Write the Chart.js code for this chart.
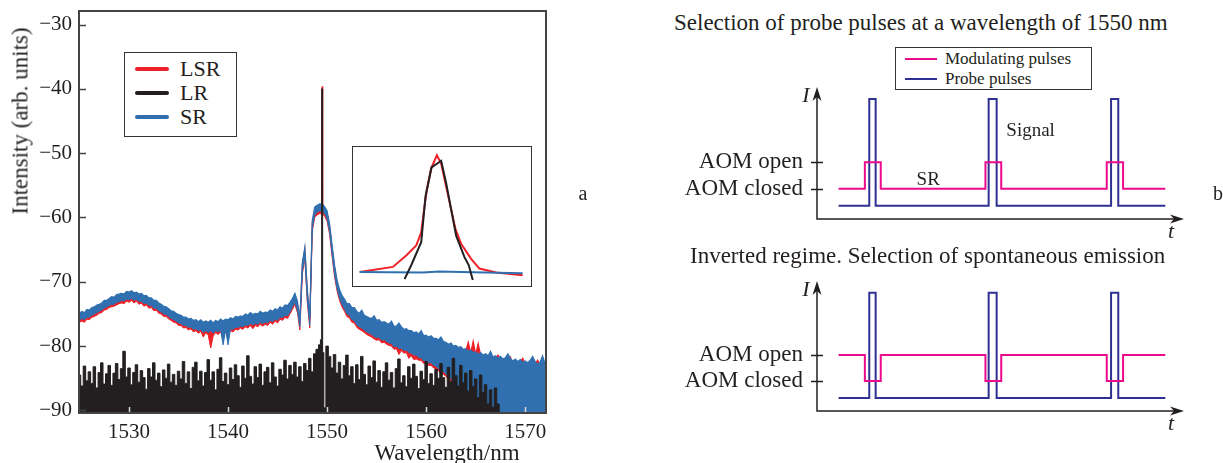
<!DOCTYPE html>
<html>
<head>
<meta charset="utf-8">
<script src="https://cdn.jsdelivr.net/npm/chart.js@4.4.1/dist/chart.umd.min.js"></script>
<style>
  html, body { margin: 0; padding: 0; background: #fff; }
  body { width: 1223px; height: 463px; position: relative; overflow: hidden;
         font-family: "Liberation Serif", "DejaVu Serif", serif; color: #231f20; }
  canvas, .box, .txt { position: absolute; }
  .txt { white-space: nowrap; line-height: 1; }
  .box { box-sizing: border-box; background: #fff; }
  .row { display: flex; align-items: center; }
  .sw { display: inline-block; }
</style>
</head>
<body>
<canvas id="spectrum" width="560" height="463" style="left:0;top:0"></canvas>
<div class="box" id="insetBox" style="left:352px;top:146px;width:180px;height:141px;border:1.5px solid #333">
  <canvas id="inset" width="177" height="138" style="left:0;top:0"></canvas>
</div>
<div class="box" id="specLegend" style="left:124px;top:52px;width:113px;height:85px;border:1.5px solid #333;padding-top:4px"></div>
<div class="txt" style="left:20px;top:121px;font-size:23px;transform:translate(-50%,-50%) rotate(-90deg)">Intensity (arb. units)</div>
<div class="txt" style="left:447px;top:452px;font-size:23px;transform:translate(-50%,-50%)">Wavelength/nm</div>
<div class="txt" style="left:583px;top:193px;font-size:20px;transform:translate(-50%,-50%)">a</div>

<canvas id="scheme1" width="563" height="170" style="left:660px;top:80px"></canvas>
<canvas id="scheme2" width="563" height="175" style="left:660px;top:274px"></canvas>
<div class="txt" style="left:674px;top:22px;font-size:23px;transform:translateY(-50%)">Selection of probe pulses at a wavelength of 1550 nm</div>
<div class="txt" style="left:690px;top:255px;font-size:23px;transform:translateY(-50%)">Inverted regime. Selection of spontaneous emission</div>
<div class="box" id="schemeLegend" style="left:895px;top:47px;width:197px;height:43px;border:1px solid #333;padding-top:1px"></div>
<div class="txt" style="left:1218px;top:193px;font-size:20px;transform:translate(-50%,-50%)">b</div>

<script>
// ---- spectrum (a): every array sampled each 0.25 nm from 1525 nm ----
const wlStart = 1525;
const wlStep = 0.25;

// SR (blue) noise band: upper and lower edge
const srTop = [
  -74.9, -74.6, -74.8, -74.3,  -74.4, -74.0, -73.9, -73.6,  -73.5, -73.3, -72.9, -72.9,
  -72.6, -72.3, -72.4, -72.0,  -71.9, -71.8, -71.9, -71.5,  -71.6, -71.4, -71.7, -71.6,
  -71.9, -71.8, -72.2, -72.1,  -72.5, -72.5, -72.9, -72.9,  -73.3, -73.5, -73.8, -73.9,
  -74.2, -74.5, -74.6, -74.9,  -75.1, -75.2, -75.5, -75.5,  -75.8, -75.7, -76.0, -75.9,
  -76.2, -75.9, -76.3, -76.1,  -76.3, -76.0, -76.4, -76.0,  -76.2, -75.8, -76.1, -75.8,
  -75.9, -75.6, -75.8, -75.4,  -75.5, -75.3, -75.4, -75.0,  -75.2, -74.8, -75.1, -74.9,
  -75.0, -74.6, -74.9, -74.7,  -74.8, -74.4, -74.6, -74.2,  -74.4, -73.9, -74.1, -73.6,
  -73.7, -73.2, -72.6, -71.8,  -73.0, -75.8, -67.0, -64.6,  -71.2, -75.4, -60.5, -58.4,
  -58.1, -57.9, -57.9, -58.3,  -59.0, -61.0, -64.3, -67.4,  -69.7, -71.2, -72.1, -72.7,
  -73.4, -73.4, -74.0, -74.0,  -74.6, -74.9, -74.4, -75.2,  -75.4, -75.6, -75.7, -75.3,
  -76.0, -75.9, -76.3, -76.2,  -76.4, -76.6, -76.1, -76.9,  -76.9, -76.4, -77.0, -77.4,
  -77.3, -77.6, -77.6, -77.9,  -77.8, -78.1, -77.6, -78.4,  -78.3, -78.6, -78.4, -78.8,
  -78.8, -79.0, -78.6, -79.3,  -79.4, -79.7, -79.5, -80.0,  -79.9, -80.2, -80.1, -80.5,
  -80.4, -80.8, -80.6, -81.0,  -80.9, -81.3, -81.0, -81.4,  -81.2, -81.5, -80.8, -81.7,
  -81.5, -81.9, -81.6, -82.0,  -81.8, -81.2, -81.9, -82.3,  -82.0, -82.4, -82.1, -82.5,
  -82.3, -82.6, -82.2, -81.6,  -82.4, -82.8, -82.5, -81.5,  -82.7
];
const srBottom = [
  -76.0, -75.7, -75.9, -75.5,  -75.5, -75.2, -75.0, -74.8,  -74.6, -74.4, -74.1, -73.9,
  -73.7, -73.5, -73.5, -73.2,  -73.1, -72.9, -73.0, -72.7,  -72.8, -72.6, -72.9, -72.7,
  -73.1, -73.0, -73.4, -73.3,  -73.7, -73.7, -74.1, -74.1,  -74.5, -74.7, -75.0, -75.1,
  -75.4, -75.7, -75.9, -76.1,  -76.4, -76.5, -76.8, -76.8,  -77.1, -77.0, -77.4, -77.3,
  -77.6, -77.4, -77.9, -77.6,  -77.9, -77.6, -78.0, -77.6,  -77.8, -77.5, -79.8, -77.5,
  -79.8, -77.3, -77.4, -77.1,  -77.1, -76.9, -77.0, -76.7,  -76.8, -76.5, -76.7, -76.5,
  -76.6, -76.3, -76.5, -76.3,  -76.4, -76.0, -76.2, -75.8,  -76.0, -75.5, -75.6, -75.2,
  -75.3, -74.7, -73.9, -73.2,  -74.4, -77.0, -68.4, -66.0,  -72.8, -76.8, -61.8, -59.6,
  -59.2, -59.0, -59.0, -59.4,  -60.2, -62.2, -65.6, -68.8,  -71.0, -72.5, -73.5, -74.2,
  -75.0, -75.2, -75.9, -76.0,  -76.7, -77.0, -77.2, -77.5,  -77.8, -78.0, -78.2, -78.5,
  -78.7, -78.6, -79.1, -79.0,  -79.3, -79.5, -79.6, -80.1,  -80.0, -80.4, -80.3, -80.7,
  -80.6, -81.0, -81.1, -81.4,  -81.4, -81.8, -81.8, -82.3,  -82.2, -82.6, -82.6, -83.0,
  -83.1, -83.5, -83.8, -84.0,  -84.3, -84.8, -85.0, -85.6,  -86.0, -86.6, -87.2, -87.8,
  -88.6, -89.4, -90.6, -90.6,  -90.6, -90.6, -90.6, -90.6,  -90.6, -90.6, -90.6, -90.6,
  -90.6, -90.6, -90.6, -90.6,  -90.6, -90.6, -90.6, -90.6,  -90.6, -90.6, -90.6, -90.6,
  -90.6, -90.6, -90.6, -90.6,  -90.6, -90.6, -90.6, -90.6,  -90.6
];
// LSR (red) noise band: upper and lower edge
const lsrTop = [
  -75.3, -75.0, -75.2, -74.7,  -74.8, -74.4, -74.3, -74.0,  -73.9, -73.7, -73.3, -73.3,
  -73.0, -72.7, -72.8, -72.4,  -72.3, -72.2, -72.3, -71.9,  -72.0, -71.8, -72.1, -72.0,
  -72.3, -72.2, -72.6, -72.5,  -72.9, -72.9, -73.3, -73.3,  -73.7, -73.9, -74.2, -74.3,
  -74.6, -74.9, -75.0, -75.3,  -75.5, -75.6, -75.9, -75.9,  -76.2, -76.1, -76.4, -76.3,
  -76.6, -76.3, -76.7, -76.5,  -76.7, -76.4, -76.8, -76.4,  -76.6, -76.2, -76.5, -76.2,
  -76.3, -76.0, -76.2, -75.8,  -75.9, -75.7, -75.8, -75.4,  -75.6, -75.2, -75.5, -75.3,
  -75.4, -75.0, -75.3, -75.1,  -75.2, -74.8, -75.0, -74.6,  -74.8, -74.3, -74.5, -74.0,
  -74.1, -73.6, -73.0, -72.2,  -73.4, -76.2, -67.4, -65.0,  -71.6, -75.8, -60.9, -58.8,
  -58.5, -58.3, -39.6, -58.7,  -59.4, -61.4, -64.7, -67.8,  -70.1, -71.6, -72.5, -73.1,
  -73.8, -73.8, -74.4, -74.4,  -75.0, -75.3, -75.4, -75.6,  -75.8, -76.0, -76.1, -76.2,
  -76.4, -76.3, -76.7, -76.6,  -76.8, -77.0, -76.9, -77.3,  -77.3, -77.6, -77.4, -77.8,
  -77.7, -78.0, -78.0, -78.3,  -78.2, -78.5, -78.4, -78.8,  -78.7, -79.0, -78.8, -79.2,
  -79.2, -79.4, -79.6, -79.7,  -79.8, -80.1, -79.9, -80.4,  -80.3, -80.6, -80.5, -80.9,
  -80.8, -79.4, -81.0, -79.2,  -81.3, -79.6, -81.4, -81.8,  -81.6, -81.9, -81.7, -82.1,
  -81.9, -81.4, -82.0, -82.4,  -82.2, -82.5, -81.7, -82.7,  -82.4, -82.8, -82.5, -81.9,
  -82.7, -83.0, -82.6, -83.1,  -82.8, -82.2, -82.9, -83.3,  -82.4
];
const lsrBottom = [
  -76.3, -76.1, -76.3, -75.8,  -75.9, -75.5, -75.4, -75.2,  -74.9, -74.8, -74.4, -74.3,
  -74.0, -73.9, -73.8, -73.6,  -73.4, -73.3, -73.4, -73.0,  -73.2, -72.9, -73.3, -73.0,
  -73.5, -73.3, -73.8, -73.6,  -74.1, -74.0, -74.5, -74.4,  -74.9, -75.0, -75.4, -75.4,
  -75.8, -76.0, -76.3, -76.4,  -76.8, -76.8, -77.2, -77.1,  -77.5, -77.3, -77.8, -77.6,
  -78.0, -77.7, -78.6, -77.9,  -78.3, -80.3, -78.4, -77.9,  -78.2, -77.8, -78.5, -77.8,
  -78.1, -77.6, -77.8, -77.4,  -77.5, -77.2, -77.4, -77.0,  -77.2, -76.8, -77.3, -76.8,
  -77.0, -76.6, -76.9, -76.6,  -76.8, -76.3, -76.6, -76.1,  -76.4, -75.8, -76.0, -75.5,
  -75.7, -75.0, -74.3, -73.5,  -74.8, -77.5, -68.8, -66.4,  -73.2, -77.2, -62.2, -60.0,
  -59.6, -59.4, -59.4, -59.8,  -60.6, -62.6, -66.0, -69.2,  -71.4, -72.9, -73.9, -74.6,
  -75.4, -75.6, -76.3, -76.4,  -77.1, -77.4, -77.6, -77.9,  -78.2, -78.4, -78.6, -78.9,
  -79.1, -79.0, -79.5, -79.4,  -79.7, -79.9, -80.0, -80.5,  -80.4, -81.3, -80.7, -81.1,
  -81.0, -81.9, -81.5, -82.1,  -82.0, -82.2, -82.2, -82.7,  -82.6, -83.0, -83.0, -83.4,
  -83.5, -83.9, -84.2, -84.4,  -84.7, -85.2, -85.4, -86.0,  -86.4, -87.0, -87.6, -88.2,
  -89.0, -89.8, -90.6, -90.6,  -90.6, -90.6, -90.6, -90.6,  -90.6, -90.6, -90.6, -90.6,
  -90.6, -90.6, -90.6, -90.6,  -90.6, -90.6, -90.6, -90.6,  -90.6, -90.6, -90.6, -90.6,
  -90.6, -90.6, -90.6, -90.6,  -90.6, -90.6, -90.6, -90.6,  -90.6
];
// LR (black) noise floor
const lr = [
  -84.5, -86.2, -83.1, -85.4,  -84.0, -85.8, -83.2, -86.5,  -84.1, -82.6, -85.9, -84.3,
  -83.0, -86.1, -84.2, -82.7,  -85.2, -83.5, -80.8, -84.8,  -83.4, -86.0, -84.1, -82.9,
  -85.6, -83.8, -84.9, -86.7,  -83.5, -84.8, -82.6, -85.3,  -84.2, -86.3, -83.7, -85.0,
  -82.8, -85.6, -84.4, -86.1,  -83.9, -85.1, -82.4, -85.8,  -84.0, -86.6, -83.3, -82.5,
  -85.4, -83.9, -86.2, -84.1,  -82.1, -85.3, -84.0, -86.8,  -83.6, -81.8, -85.5, -84.2,
  -86.0, -83.4, -85.2, -82.9,  -84.6, -86.4, -83.1, -85.0,  -81.5, -84.7, -85.9, -83.2,
  -84.9, -82.8, -86.1, -84.0,  -83.3, -85.7, -82.6, -84.8,  -86.2, -83.6, -84.5, -82.2,
  -85.1, -83.0, -84.4, -82.5,  -84.8, -83.2, -85.5, -82.7,  -83.8, -81.9, -84.0, -81.2,
  -80.5, -79.8, -40.0, -89.6,  -80.0, -81.6, -83.4, -81.3,  -84.2, -82.5, -85.1, -83.0,
  -81.4, -84.6, -83.2, -85.8,  -82.9, -85.2, -81.6, -84.4,  -86.0, -83.1, -84.9, -82.3,
  -85.6, -83.8, -86.4, -84.0,  -82.6, -85.3, -84.1, -86.5,  -83.5, -82.0, -85.7, -84.6,
  -86.3, -83.2, -85.0, -82.8,  -84.7, -86.6, -83.9, -85.2,  -82.4, -85.8, -84.3, -86.1,
  -83.6, -85.0, -82.7, -84.9,  -86.4, -83.3, -85.5, -81.9,  -84.6, -86.2, -83.0, -85.7,
  -84.2, -87.0, -83.8, -86.3,  -85.1, -88.0, -84.5, -87.2,  -86.0, -89.0, -86.8, -89.5,
  -86.5, -89.0, -92.0, -92.0,  -92.0, -92.0, -92.0, -92.0,  -92.0, -92.0, -92.0, -92.0,
  -92.0, -92.0, -92.0, -92.0,  -92.0, -92.0, -92.0, -92.0,  -92.0
];
// shoulders of the narrow laser line at 1549.5 nm
const lsrPeakX = [1549.44, 1549.56];
const lsrPeakY = [-58.4, -58.6];
const lrPeakX = [1549.4, 1549.6];
const lrPeakY = [-79.0, -81.0];

const xTicksStep = 10;
const yTicksStep = 10;

// ---- inset: zoom on the laser line (relative units) ----
const insetLsrX = [-23.2, -13.2, -9.2, -6.2, -4.7, -3.7, -3.0, -1.7, 0, 1.3, 2.8, 4.3, 5.6, 7.3, 10.3, 12.8, 17.8, 25.8];
const insetLsrY = [9.5, 13.1, 21.4, 28.6, 38.1, 57.1, 69.0, 84.5, 94.0, 88.1, 71.4, 54.8, 40.5, 29.8, 19.0, 11.9, 9.0, 7.1];
const insetLrX = [-9.7, -7.7, -4.7, -3.4, -1.6, 1.3, 2.8, 5.8, 8.3, 9.6, 10.8];
const insetLrY = [4.3, 14.3, 31.0, 64.3, 85.2, 90.0, 73.8, 35.7, 20.2, 14.3, 3.6];
const insetSrX = [-23.2, -14.2, -4.2, 0.8, 10.8, 25.8];
const insetSrY = [9.5, 9.3, 9.0, 9.8, 9.3, 8.6];

// ---- pulse schemes (b): time in arb. units 0..100, intensity 0..10 ----
const traceStart = 5.88;
const traceEnd = 94.9;
const modEdges = [13.04, 17.37, 45.9, 50.2, 78.95, 83.4];
const probeEdges = [14.24, 15.98, 46.77, 48.95, 80.13, 82.09];
const aomLevels = [2.3, 4.3];
const aomLabels = ['AOM closed', 'AOM open'];
const probeBase = 1.0;
const probePeak = 9.1;

const RED = '#ee2128';
const BLACK = '#231f20';
const BLUE = '#3070b0';
const PINK = '#ec0a8c';
const NAVY = '#2e3192';
const FONT = '"Liberation Serif", "DejaVu Serif", serif';

Chart.defaults.font.family = FONT;
Chart.defaults.color = BLACK;

function gridSeries(vals, extraX = [], extraY = []) {
  const pts = vals.map((v, i) => ({ x: wlStart + i * wlStep, y: v }));
  extraX.forEach((x, i) => pts.push({ x: x, y: extraY[i] }));
  return pts.sort((a, b) => a.x - b.x);
}
function pairs(xs, ys) {
  return xs.map((x, i) => ({ x: x, y: ys[i] }));
}
const minus = v => (v < 0 ? '\u2212' + Math.abs(v) : '' + v);
const noPad = s => { s.paddingTop = 0; s.paddingBottom = 0; s.paddingLeft = 0; s.paddingRight = 0; };

const framePlugin = {
  id: 'frame',
  afterDatasetsDraw(chart) {
    const { ctx, chartArea: a, scales } = chart;
    ctx.save();
    ctx.strokeStyle = '#444';
    ctx.lineWidth = 2;
    ctx.strokeRect(a.left, a.top, a.right - a.left, a.bottom - a.top);
    ctx.lineWidth = 1.5;
    scales.y.ticks.forEach(t => {
      const y = Math.round(scales.y.getPixelForValue(t.value)) + 0.5;
      ctx.beginPath(); ctx.moveTo(a.left, y); ctx.lineTo(a.left + 7, y); ctx.stroke();
    });
    ctx.strokeStyle = '#d8d8d8';
    scales.x.ticks.forEach(t => {
      const x = Math.round(scales.x.getPixelForValue(t.value)) + 0.5;
      ctx.beginPath(); ctx.moveTo(x, a.bottom - 1); ctx.lineTo(x, a.bottom - 6); ctx.stroke();
    });
    ctx.restore();
  }
};

// bands are drawn as an edge line filled to the previous dataset
const spectrumSets = [
  { label: 'LSR low', data: gridSeries(lsrBottom), borderColor: RED, borderWidth: 1, order: 5 },
  { label: 'LSR', data: gridSeries(lsrTop, lsrPeakX, lsrPeakY), borderColor: RED, backgroundColor: RED,
    borderWidth: 1.2, fill: '-1', order: 4 },
  { label: 'LR', data: gridSeries(lr, lrPeakX, lrPeakY), borderColor: BLACK, backgroundColor: BLACK,
    borderWidth: 1, fill: 'start', stepped: 'middle', order: 1 },
  { label: 'SR low', data: gridSeries(srBottom), borderColor: BLUE, borderWidth: 1, order: 3 },
  { label: 'SR', data: gridSeries(srTop), borderColor: BLUE, backgroundColor: BLUE,
    borderWidth: 1.2, fill: '-1', order: 2 }
];

new Chart(document.getElementById('spectrum'), {
  type: 'line',
  data: { datasets: spectrumSets },
  options: {
    responsive: false,
    animation: false,
    devicePixelRatio: 1,
    layout: { padding: { top: 11, right: 14, left: 0, bottom: 0 } },
    elements: { point: { radius: 0 }, line: { tension: 0 } },
    plugins: { legend: { display: false }, tooltip: { enabled: false } },
    scales: {
      x: {
        type: 'linear', min: 1524.95, max: 1572.1,
        grid: { display: false, drawTicks: false }, border: { display: false },
        ticks: { stepSize: xTicksStep, includeBounds: false, padding: 7, font: { size: 21 }, color: BLACK, maxRotation: 0,
                 callback: v => '' + v },
        afterFit: s => { noPad(s); s.height = 50; }
      },
      y: {
        min: -90.4, max: -27.9,
        grid: { display: false, drawTicks: false }, border: { display: false },
        ticks: { stepSize: yTicksStep, includeBounds: false, padding: 7, font: { size: 21 }, color: BLACK, callback: minus },
        afterFit: s => { noPad(s); s.width = 79; }
      }
    }
  },
  plugins: [framePlugin]
});

// legend for the spectrum, built from its datasets
const specLegend = document.getElementById('specLegend');
['LSR', 'LR', 'SR'].map(l => spectrumSets.find(d => d.label === l)).forEach(ds => {
  const row = document.createElement('div');
  row.className = 'row';
  row.style.height = '24px';
  row.innerHTML = '<span class="sw" style="width:34px;height:4px;border-radius:2px;margin-left:10px;margin-right:11px;background:' +
    ds.borderColor + '"></span><span style="font-size:22px">' + ds.label + '</span>';
  specLegend.appendChild(row);
});

new Chart(document.getElementById('inset'), {
  type: 'line',
  data: {
    datasets: [
      { label: 'LR', data: pairs(insetLrX, insetLrY), borderColor: BLACK, borderWidth: 2, order: 1 },
      { label: 'SR', data: pairs(insetSrX, insetSrY), borderColor: BLUE, borderWidth: 2, order: 2 },
      { label: 'LSR', data: pairs(insetLsrX, insetLsrY), borderColor: RED, borderWidth: 2, order: 3 }
    ]
  },
  options: {
    responsive: false, animation: false, devicePixelRatio: 1,
    layout: { padding: 0 },
    elements: { point: { radius: 0 }, line: { tension: 0 } },
    plugins: { legend: { display: false }, tooltip: { enabled: false } },
    scales: {
      x: { type: 'linear', display: false, min: -25.2, max: 28 },
      y: { display: false, min: 0, max: 100 }
    }
  }
});

// ---- schemes ----
function steps(edges, base, other) {
  const pts = [{ x: traceStart, y: base }];
  edges.forEach((e, i) => pts.push({ x: e, y: i % 2 === 0 ? other : base }));
  pts.push({ x: traceEnd, y: base });
  return pts;
}

const schemePlugin = {
  id: 'scheme',
  afterDraw(chart, args, opts) {
    const { ctx, chartArea: a, scales: { x, y } } = chart;
    ctx.save();
    ctx.strokeStyle = BLACK;
    ctx.fillStyle = BLACK;
    ctx.lineWidth = 1.5;
    ctx.beginPath();
    ctx.moveTo(a.left, a.top + 6);
    ctx.lineTo(a.left, a.bottom);
    ctx.lineTo(a.right - 6, a.bottom);
    ctx.stroke();
    // arrow heads
    ctx.beginPath();
    ctx.moveTo(a.left, a.top);
    ctx.lineTo(a.left - 4.5, a.top + 14);
    ctx.lineTo(a.left, a.top + 10);
    ctx.lineTo(a.left + 4.5, a.top + 14);
    ctx.closePath(); ctx.fill();
    ctx.beginPath();
    ctx.moveTo(a.right, a.bottom);
    ctx.lineTo(a.right - 14, a.bottom - 4.5);
    ctx.lineTo(a.right - 10, a.bottom);
    ctx.lineTo(a.right - 14, a.bottom + 4.5);
    ctx.closePath(); ctx.fill();
    // level marks crossing the axis
    y.ticks.forEach(t => {
      const py = Math.round(y.getPixelForValue(t.value)) + 0.5;
      ctx.beginPath(); ctx.moveTo(a.left - 6, py); ctx.lineTo(a.left + 6, py); ctx.stroke();
    });
    ctx.textAlign = 'center';
    ctx.textBaseline = 'middle';
    ctx.font = 'italic 22px ' + FONT;
    ctx.fillText('I', a.left - 11, a.top + 9);
    ctx.fillText('t', a.right - 13, a.bottom + 13);
    ctx.font = '19px ' + FONT;
    (opts.notes || []).forEach(n => ctx.fillText(n.text, x.getPixelForValue(n.x), y.getPixelForValue(n.y)));
    ctx.restore();
  }
};

function makeScheme(id, modBase, modOther, padBottom, notes) {
  const sets = [
    { label: 'Modulating pulses', data: steps(modEdges, modBase, modOther), borderColor: PINK, borderWidth: 2, stepped: 'before' },
    { label: 'Probe pulses', data: steps(probeEdges, probeBase, probePeak), borderColor: NAVY, borderWidth: 2, stepped: 'before' }
  ];
  new Chart(document.getElementById(id), {
    type: 'line',
    data: { datasets: sets },
    options: {
      responsive: false, animation: false, devicePixelRatio: 1,
      layout: { padding: { top: 7, right: 39, bottom: padBottom, left: 0 } },
      elements: { point: { radius: 0 }, line: { tension: 0 } },
      plugins: { legend: { display: false }, tooltip: { enabled: false }, scheme: { notes: notes } },
      scales: {
        x: { type: 'linear', display: false, min: 0, max: 100 },
        y: {
          min: 0, max: 10,
          grid: { display: false, drawTicks: false }, border: { display: false },
          afterBuildTicks: s => { s.ticks = aomLevels.map(v => ({ value: v })); },
          ticks: { padding: 14, font: { size: 23 }, color: BLACK,
                   callback: v => aomLabels[aomLevels.indexOf(v)] },
          afterFit: s => { noPad(s); s.width = 157; }
        }
      }
    },
    plugins: [schemePlugin]
  });
  return sets;
}

// canvas 1: top 80, axis 219 -> bottom pad 170-139; canvas 2: top 274, axis 411 -> 175-137
const schemeSets = makeScheme('scheme1', aomLevels[0], aomLevels[1], 31,
  [{ text: 'Signal', x: 58.2, y: 6.63 }, { text: 'SR', x: 30.3, y: 2.96 }]);
makeScheme('scheme2', aomLevels[1], aomLevels[0], 38, []);

const schemeLegend = document.getElementById('schemeLegend');
schemeSets.forEach(ds => {
  const row = document.createElement('div');
  row.className = 'row';
  row.style.height = '20px';
  row.innerHTML = '<span class="sw" style="width:32px;height:2px;margin-left:9px;margin-right:8px;background:' +
    ds.borderColor + '"></span><span style="font-size:17px">' + ds.label + '</span>';
  schemeLegend.appendChild(row);
});
</script>
</body>
</html>
